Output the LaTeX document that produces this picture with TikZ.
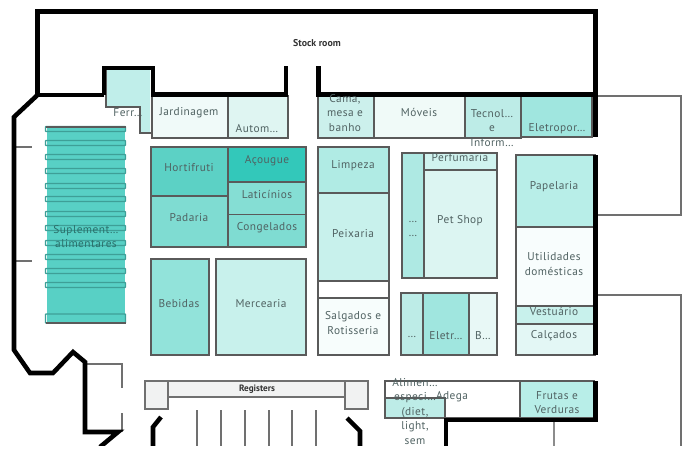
\documentclass[tikz,border=0pt]{standalone}
\usepackage{fontspec}
\setmainfont[LetterSpace=4]{PT Sans}
\newfontfamily\boldlabel[LetterSpace=0]{PT Sans}
\definecolor{txt}{HTML}{506262}
\definecolor{edge}{HTML}{5A5A5A}
\definecolor{thincol}{HTML}{707070}
\definecolor{rTeal}{HTML}{58D0C5}
\definecolor{shelfc}{HTML}{3E9F97}
\definecolor{ferrc}{HTML}{C0EEEA}
\definecolor{rJard}{HTML}{F0FAF9}
\definecolor{rAuto}{HTML}{DFF5F2}
\definecolor{rCama}{HTML}{CCF0EC}
\definecolor{rMove}{HTML}{F0FAF8}
\definecolor{rTecn}{HTML}{BDECE7}
\definecolor{rElep}{HTML}{A0E6DF}
\definecolor{rHort}{HTML}{5CD1C5}
\definecolor{rPada}{HTML}{7FDCD2}
\definecolor{rAcou}{HTML}{33C8BA}
\definecolor{rLati}{HTML}{85DED4}
\definecolor{rBebi}{HTML}{92E3DA}
\definecolor{rMerc}{HTML}{C8F1EC}
\definecolor{rLimp}{HTML}{B0EBE4}
\definecolor{rSalg}{HTML}{F7FDFC}
\definecolor{rStrip}{HTML}{AEE9E3}
\definecolor{rPerf}{HTML}{D0F3EF}
\definecolor{rPet}{HTML}{DCF5F2}
\definecolor{rBb}{HTML}{E8F8F6}
\definecolor{rPape}{HTML}{B8EEE8}
\definecolor{rUtil}{HTML}{F8FDFD}
\definecolor{rCalc}{HTML}{E3F7F5}
\definecolor{rReg}{HTML}{F1F2F2}
\definecolor{suptxt}{HTML}{2A6F6A}
\tikzset{
  wall/.style={line width=3.4pt,black,line join=miter},
  thinwall/.style={line width=0.9pt,thincol,line join=miter},
  room/.style={draw=edge,line width=0.8pt},
  lbl/.style={inner sep=0pt,yshift=-0.6pt,text=txt,font=\fontsize{8.5}{10.9}\selectfont,align=center},
  shelf/.style={draw=shelfc,line width=1pt,rounded corners=0.5pt},
  sm/.style={inner sep=0pt,text=black!80,font=\selectfont\boldlabel\bfseries}
}
\newcommand{\room}[5]{\draw[room,fill=#5] (#1,#2) rectangle (#3,#4);}
\begin{document}
\begin{tikzpicture}[x=0.75pt,y=-0.75pt]
\useasboundingbox (0,0) rectangle (684,451);
\begin{scope}
\clip (0,0) rectangle (684,445);
% supplement block
\fill[fill=rTeal] (47,127) rectangle (124.5,323);
\foreach \yy in {129,143,157,171,186,199,214,228,243,257,271,285}{
  \draw[shelf] (45.5,\yy-2.5) rectangle (125.5,\yy+2.5);}
\draw[shelf] (45.5,314) rectangle (125.5,323);
\draw[edge,line width=0.9pt] (45.5,127)--(125.5,127);
\draw[edge,line width=0.9pt] (45.5,323)--(125.5,323);
% ferr
\fill[ferrc] (106,70) -- (150,70) -- (150,132) -- (140,132) -- (140,107) -- (106,107) -- cycle;
\draw[edge,line width=0.8pt] (106,70) -- (106,107) -- (140,107) -- (140,133) -- (152,133);
% top rooms
\room{152}{96}{228}{138}{rJard}
\room{228}{96}{288}{138}{rAuto}
\room{318}{96}{374}{138}{rCama}
\room{374}{96}{465}{138}{rMove}
\room{465}{96}{521}{138}{rTecn}
\room{521}{96}{592}{137}{rElep}
% block 1
\room{151}{147}{228}{196}{rHort}
\room{151}{196}{228}{247}{rPada}
\room{228}{147}{306}{182}{rAcou}
\room{228}{182}{306}{214.5}{rLati}
\room{228}{214.5}{306}{247}{rPada}
\room{151}{259}{209}{355}{rBebi}
\room{216}{259}{306}{355}{rMerc}
% block 2
\room{318}{147}{389}{193}{rLimp}
\room{318}{193}{389}{281}{rMerc}
\room{318}{281}{389}{298}{white}
\room{318}{298}{389}{355}{rSalg}
% block 3
\room{402}{153}{424}{278}{rStrip}
\room{424}{153}{497}{170}{rPerf}
\room{424}{170}{497}{278}{rPet}
\room{401}{293}{423}{355}{rTecn}
\room{423}{293}{469}{355}{rElep}
\room{469}{293}{497}{355}{rBb}
% block 4
\room{516}{155}{595}{227}{rPape}
\room{516}{227}{595}{306}{rUtil}
\room{516}{306}{595}{324}{rMerc}
\room{516}{324}{595}{355}{rCalc}
% bottom right
\draw[room,fill=white] (385,381) rectangle (520,418);
\room{385}{398}{445}{418}{rTecn}
\room{520}{381}{594}{418}{rPape}
% registers
\draw[room,fill=rReg,draw=thincol] (168,381) rectangle (345,397);
\draw[room,fill=rReg,draw=thincol] (145,381) rectangle (168,409);
\draw[room,fill=rReg,draw=thincol] (345,381) rectangle (368,409);
\foreach \xx in {197,221,245,269,292,316}{\draw[thinwall] (\xx,410) -- (\xx,446);}
% thin walls
\draw[thinwall] (14,147) -- (32,147);
\draw[thinwall] (14,261) -- (32,261);
\draw[thinwall] (85,364) -- (122,364) -- (122,388);
\draw[thinwall] (122,413) -- (122,431) -- (85,431);
\draw[thinwall] (596,96) -- (681,96) -- (681,215) -- (597,215);
\draw[thinwall] (597,295) -- (681,295) -- (681,446);
\draw[thinwall,line width=1.1pt,black!45] (554,421) -- (554,446);
% thick walls
\draw[wall] (104,95) -- (37.5,95) -- (37.5,11.5) -- (595.5,11.5) -- (595.5,137);
\draw[wall] (104,95) -- (104,68) -- (153,68) -- (153,94.5) -- (286,94.5) -- (286,66);
\draw[wall] (318.5,66) -- (318.5,94.5) -- (595.5,94.5);
\draw[wall] (37.5,95) -- (14,117) -- (14,350) -- (30,373) -- (53,373) -- (73,352) -- (85,362) -- (85,432) -- (118,432) -- (100,447);
\draw[wall] (595.5,155) -- (595.5,355);
\draw[wall] (595.5,381) -- (595.5,420) -- (446,420) -- (446,447);
\draw[wall] (161,417) -- (153,427) -- (153,447);
\draw[wall] (347,418) -- (360,431) -- (360,447);
% labels
\node[sm,font=\fontsize{7.4}{9}\selectfont\boldlabel\bfseries] (stock) at (317,43) {Stock room};
\node[sm,font=\fontsize{6.9}{9}\selectfont\boldlabel\bfseries] (reg) at (257,389) {Registers};
\node[lbl] (ferr) at (128,112) {Ferr…};
\node[lbl] (jard) at (189,112) {Jardinagem};
\node[lbl] (auto) at (257,127.5) {Autom…};
\node[lbl] (cama) at (345,112) {Cama,\\mesa e\\banho};
\node[lbl] (move) at (419,112) {Móveis};
\node[lbl] (tecn) at (492,127) {Tecnol…\\e\\Inform…};
\node[lbl] (elep) at (557,127.5) {Eletropor…};
\node[lbl,text=suptxt] (supl) at (86,235.5) {Suplement…\\alimentares};
\node[lbl] (hort) at (189,167) {Hortifruti};
\node[lbl] (pada) at (189,217) {Padaria};
\node[lbl] (acou) at (267,160) {Açougue};
\node[lbl] (lati) at (267,194) {Laticínios};
\node[lbl] (cong) at (267,227) {Congelados};
\node[lbl] (bebi) at (179,303) {Bebidas};
\node[lbl] (merc) at (261,303) {Mercearia};
\node[lbl] (limp) at (353,165) {Limpeza};
\node[lbl] (peix) at (353,233) {Peixaria};
\node[lbl] (salg) at (353,322) {Salgados e\\Rotisseria};
\node[lbl] (pont) at (413,228) {…\\…};
\node[lbl] (perf) at (460,157) {Perfumaria};
\node[lbl] (pets) at (460,220) {Pet Shop};
\node[lbl] (pon2) at (412,336) {…};
\node[lbl] (elet) at (446,335) {Eletr…};
\node[lbl] (bbbb) at (483,335) {B…};
\node[lbl] (pape) at (554,186) {Papelaria};
\node[lbl] (util) at (554,263.5) {Utilidades\\domésticas};
\node[lbl] (vest) at (554,311) {Vestuário};
\node[lbl] (calc) at (554,335) {Calçados};
\node[lbl] (alim) at (415,410.5) {Alimen…\\especi…\\(diet,\\light,\\sem};
\node[lbl] (adeg) at (452,395.5) {Adega};
\node[lbl] (frut) at (557,402) {Frutas e\\Verduras};
\end{scope}
\end{tikzpicture}
\end{document}
